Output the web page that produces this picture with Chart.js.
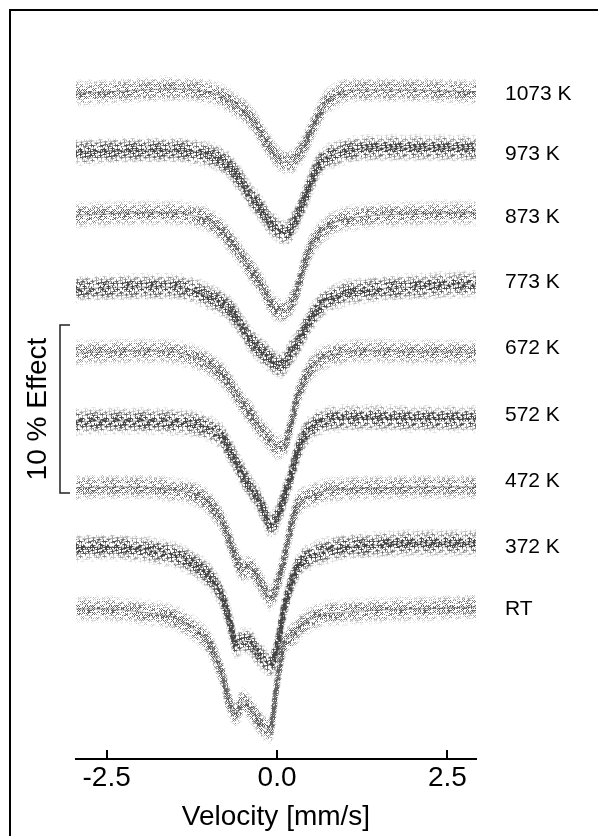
<!DOCTYPE html>
<html>
<head>
<meta charset="utf-8">
<script src="https://cdn.jsdelivr.net/npm/chart.js@4.4.0/dist/chart.umd.min.js"></script>
<style>
html, body { margin: 0; padding: 0; background: #fff; }
#wrap { position: relative; width: 598px; height: 836px; }
#frame { position: absolute; left: 9px; top: 9px; right: 0; bottom: 0; border-left: 2px solid #000; border-top: 2px solid #000; pointer-events: none; }
</style>
</head>
<body>
<div id="wrap">
  <canvas id="c" width="598" height="836"></canvas>
  <div id="frame"></div>
</div>
<script>
// velocity grid, mm/s
const velocity = [-2.95, -2.5, -2.0, -1.5, -1.2, -1.0, -0.9, -0.8, -0.7, -0.6, -0.5, -0.4, -0.3, -0.2, -0.1, 0.0,
  0.1, 0.2, 0.3, 0.4, 0.5, 0.6, 0.7, 0.8, 0.9, 1.0, 1.2, 1.5, 2.0, 2.5, 2.92];
const xTicks = [-2.5, 0.0, 2.5];
const temps = ['1073 K', '973 K', '873 K', '773 K', '672 K', '572 K', '472 K', '372 K', 'RT'];
const markers = ['x', '+', 'x', '+', 'x', '+', 'x', '+', 'x'];

// relative transmission in % (0 = baseline)
const t1073 = [0, 0.06, 0.18, 0.24, 0.18, 0.06, -0.06, -0.24, -0.48, -0.77, -1.01, -1.43, -1.96, -2.62, -3.27, -3.81,
  -4.11, -4.11, -3.75, -3.15, -2.26, -1.43, -0.65, -0.30, -0.06, 0.12, 0.18, 0.18, 0.18, 0.12, 0.06];
const t973 = [0, 0.06, 0.12, 0.12, 0, -0.18, -0.30, -0.54, -0.83, -1.37, -1.90, -2.56, -3.04, -3.63, -4.23, -4.58,
  -4.82, -4.58, -3.81, -2.80, -1.79, -0.83, -0.42, -0.18, -0.06, 0.06, 0.18, 0.24, 0.24, 0.24, 0.18];
const t873 = [0, 0.06, 0.12, 0.12, -0.06, -0.30, -0.60, -0.95, -1.49, -2.02, -2.56, -3.15, -3.75, -4.40, -5.18, -5.65,
  -5.71, -5.30, -4.40, -2.95, -1.85, -1.20, -0.83, -0.54, -0.36, -0.24, -0.12, 0, 0.06, 0.12, 0.12];
const t773 = [0, 0.06, 0.12, 0.12, -0.12, -0.48, -0.65, -0.89, -1.19, -1.73, -2.32, -2.98, -3.45, -3.81, -4.17, -4.52,
  -4.46, -3.81, -3.21, -2.44, -1.73, -1.19, -0.77, -0.54, -0.42, -0.24, -0.12, 0, 0.12, 0.24, 0.30];
const t672 = [0, 0.06, 0.12, 0.06, -0.30, -0.65, -0.95, -1.31, -1.85, -2.44, -3.04, -3.57, -4.23, -4.70, -5.18, -5.60,
  -5.54, -4.29, -2.62, -1.61, -0.89, -0.48, -0.24, -0.12, 0, 0.06, 0.12, 0.12, 0.06, 0.06, 0];
const t572 = [0, 0.06, 0.06, 0, -0.12, -0.36, -0.60, -0.89, -1.67, -2.38, -3.15, -3.87, -4.46, -5.24, -6.13, -5.71,
  -4.52, -3.27, -1.79, -0.83, -0.36, -0.06, 0.06, 0.18, 0.18, 0.24, 0.24, 0.24, 0.18, 0.18, 0.18];
const t472 = [0, 0.06, 0.06, -0.12, -0.36, -0.89, -1.43, -2.02, -3.10, -4.17, -4.88, -4.70, -5.24, -5.95, -6.55, -5.77,
  -4.29, -2.38, -1.01, -0.65, -0.48, -0.30, -0.18, -0.12, -0.06, -0.06, 0, 0, 0.06, 0.06, 0.06];
const t372 = [0, 0.06, -0.06, -0.42, -1.01, -1.67, -2.20, -2.98, -4.29, -5.77, -5.54, -5.60, -6.19, -6.61, -6.96, -5.89,
  -3.69, -2.20, -1.13, -0.71, -0.48, -0.30, -0.18, -0.06, 0, 0.06, 0.12, 0.18, 0.30, 0.30, 0.30];
const tRT = [0, 0, -0.18, -0.54, -1.25, -2.02, -2.92, -3.99, -5.60, -6.25, -5.48, -5.89, -6.49, -7.02, -7.20, -4.40,
  -2.14, -1.67, -1.25, -0.83, -0.60, -0.42, -0.30, -0.24, -0.24, -0.18, -0.12, -0.06, 0, 0.06, 0.12];

// vertical stacking of the baselines (% units)
const offsets = [39.64, 36.13, 32.38, 27.98, 24.17, 20.06, 16.13, 12.56, 8.93];
// where the temperature labels sit (% units)
const labelLevels = [39.58, 36.01, 32.26, 28.39, 24.46, 20.48, 16.55, 12.62, 8.93];
// the 10 % effect bracket
const effectBottom = 15.83;
const effectSize = 10;

const spectra = [t1073, t973, t873, t773, t672, t572, t472, t372, tRT];

const canvas = document.getElementById('c');
const ctx = canvas.getContext('2d');

// tile of crosses so the curve reads as a cloud of data points
function markTile(kind) {
  const tile = document.createElement('canvas');
  tile.width = 24; tile.height = 18;
  const g = tile.getContext('2d');
  g.strokeStyle = kind === '+' ? '#454545' : '#616161';
  g.lineWidth = 1;
  const spots = [[2.5, 3.5], [7.5, 2.5], [12.5, 4.5], [17.5, 2.5], [21.5, 5.5], [4.5, 8.5], [9.5, 7.5],
    [15.5, 9.5], [19.5, 11.5], [2.5, 13.5], [7.5, 15.5], [11.5, 12.5], [16.5, 15.5], [21.5, 14.5],
    [6.5, 5.5], [18.5, 7.5]];
  g.beginPath();
  spots.forEach(([cx, cy]) => {
    if (kind === '+') {
      g.moveTo(cx - 2, cy); g.lineTo(cx + 2, cy);
      g.moveTo(cx, cy - 2); g.lineTo(cx, cy + 2);
    } else {
      g.moveTo(cx - 1.5, cy - 1.5); g.lineTo(cx + 1.5, cy + 1.5);
      g.moveTo(cx + 1.5, cy - 1.5); g.lineTo(cx - 1.5, cy + 1.5);
    }
  });
  g.stroke();
  return ctx.createPattern(tile, 'repeat');
}
const patX = markTile('x');
const patPlus = markTile('+');

// the cloud line is drawn again shifted up/down, pattern moved each pass
const spread = [[-12, 0.15], [-10, 0.3], [-8, 0.5], [-6, 0.75], [-4, 0.95], [-2, 1],
  [2, 1], [4, 0.95], [6, 0.75], [8, 0.5], [10, 0.3], [12, 0.15]];
const smear = {
  id: 'smear',
  beforeDatasetDraw(chart, args) {
    const ds = chart.data.datasets[args.index];
    if (!ds.cloud) return;
    const el = args.meta.dataset;
    const area = chart.chartArea;
    const pat = ds.borderColor;
    const c = chart.ctx;
    c.save();
    c.beginPath();
    c.rect(area.left, area.top, area.right - area.left, area.bottom - area.top);
    c.clip();
    spread.forEach(([dy, a], k) => {
      pat.setTransform(new DOMMatrix([1, 0, 0, 1, (k * 7 + args.index * 5) % 24, (k * 5 + args.index * 3) % 18]));
      c.save();
      c.globalAlpha = a;
      c.translate(0, dy);
      el.draw(c, area);
      c.restore();
    });
    pat.setTransform(new DOMMatrix());
    c.restore();
  }
};

// x ticks pointing up, plus the 10 % effect bracket on the left
const extras = {
  id: 'extras',
  afterDraw(chart) {
    const x = chart.scales.x;
    const y = chart.scales.y;
    const c = chart.ctx;
    const base = chart.chartArea.bottom;
    c.save();
    c.strokeStyle = '#000';
    c.lineWidth = 2;
    c.beginPath();
    xTicks.forEach(v => {
      const px = Math.round(x.getPixelForValue(v));
      c.moveTo(px, base); c.lineTo(px, base - 9);
    });
    c.stroke();

    const top = y.getPixelForValue(effectBottom + effectSize);
    const bot = y.getPixelForValue(effectBottom);
    c.strokeStyle = '#222';
    c.lineWidth = 1.5;
    c.beginPath();
    c.moveTo(70, top); c.lineTo(60, top); c.lineTo(60, bot); c.lineTo(70, bot);
    c.stroke();
    c.translate(38, (top + bot) / 2);
    c.rotate(-Math.PI / 2);
    c.fillStyle = '#000';
    c.font = '28px "Liberation Sans", Arial, sans-serif';
    c.textAlign = 'center';
    c.textBaseline = 'middle';
    c.fillText('10 % Effect', 0, 0);
    c.restore();
  }
};

Chart.defaults.font.family = '"Liberation Sans", Arial, sans-serif';
Chart.defaults.color = '#000';

const datasets = [];
spectra.forEach((vals, i) => {
  const pts = velocity.map((v, k) => ({ x: v, y: offsets[i] + vals[k] }));
  datasets.push({
    label: temps[i], cloud: true, data: pts,
    borderColor: markers[i] === '+' ? patPlus : patX,
    borderWidth: 4.5, pointRadius: 0, cubicInterpolationMode: 'monotone', fill: false
  });
  datasets.push({
    label: temps[i] + ' fit', data: pts,
    borderColor: 'rgba(40,40,40,0.3)',
    borderWidth: 1.5, pointRadius: 0, cubicInterpolationMode: 'monotone', fill: false
  });
});

new Chart(ctx, {
  type: 'line',
  data: { datasets },
  options: {
    responsive: false,
    animation: false,
    layout: { padding: { left: 76, right: 0, top: 19.8, bottom: 0 } },
    plugins: { legend: { display: false }, tooltip: { enabled: false } },
    scales: {
      x: {
        type: 'linear', min: -2.95, max: 2.92,
        afterBuildTicks: s => { s.ticks = xTicks.map(v => ({ value: v })); },
        ticks: { callback: v => v.toFixed(1), font: { size: 28 }, color: '#000', padding: 2, maxRotation: 0 },
        grid: { display: false, drawOnChartArea: false, drawTicks: false },
        border: { display: true, color: '#000', width: 2 },
        title: { display: true, text: 'Velocity [mm/s]', font: { size: 28 }, color: '#000', padding: { top: 0, bottom: 2 } },
        afterFit: s => { s.height = 77; s.paddingLeft = 0; s.paddingRight = 0; }
      },
      y: { min: 0, max: 44, display: false },
      yl: {
        position: 'right', min: 0, max: 44,
        grid: { display: false, drawTicks: false },
        border: { display: false },
        afterBuildTicks: s => { s.ticks = labelLevels.map(v => ({ value: v })); },
        ticks: { callback: (v, i) => temps[i], padding: 29, font: { size: 21 }, color: '#000', autoSkip: false },
        afterFit: s => { s.width = 122; s.paddingTop = 0; s.paddingBottom = 0; }
      }
    }
  },
  plugins: [smear, extras]
});
</script>
</body>
</html>
